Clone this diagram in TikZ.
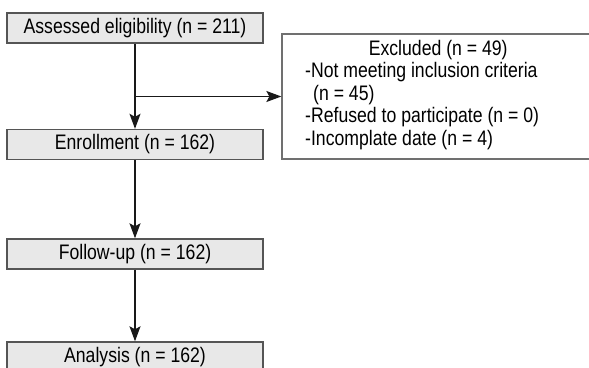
\documentclass[tikz,border=0pt]{standalone}
\usepackage{fontspec}
\setmainfont[FakeStretch=0.84]{Liberation Sans}
\usetikzlibrary{arrows.meta}
\definecolor{boxfill}{HTML}{E8E8E8}
\definecolor{boxline}{HTML}{555555}
\definecolor{exline}{HTML}{707070}
\tikzset{
  stagebox/.style={draw=boxline, line width=1.4pt, fill=boxfill, minimum width=256pt, minimum height=30pt, inner sep=0pt, font=\fontsize{21}{22.5}\selectfont},
  exbox/.style={draw=exline, line width=1.3pt, fill=white, minimum width=320pt, minimum height=125pt, inner sep=0pt},
  flow/.style={line width=1.3pt, draw=black!90, -{Stealth[length=15pt, width=11pt, inset=3pt, fill=black!90]}},
}
\begin{document}
\begin{tikzpicture}[x=1pt, y=-1pt]
\useasboundingbox (0,0) rectangle (589,367);
\node[stagebox] (assess) at (135,28) {Assessed eligibility (n = 211)};
\node[stagebox] (enrol) at (135,144.5) {Enrollment (n = 162)};
\node[stagebox] (follow) at (135,254) {Follow-up (n = 162)};
\node[stagebox] (analysis) at (135,357) {Analysis (n = 162)};
\node[exbox] (excl) at (442,96.5) {};
\node[anchor=north west, align=left, inner sep=0pt, font=\fontsize{21}{22.5}\selectfont] (excltext) at (305,40)
  {\makebox[266pt][c]{Excluded (n = 49)}\\
   -Not meeting inclusion criteria\\
   \hspace*{8pt}(n = 45)\\
   -Refused to participate (n = 0)\\
   -Incomplate date (n = 4)};
\coordinate (branch) at (assess.south |- excl.west);
\draw[flow] (assess) -- (enrol);
\draw[flow] (branch) -- (excl.west);
\draw[flow] (enrol) -- (follow);
\draw[flow] (follow) -- (analysis);
\end{tikzpicture}
\end{document}
